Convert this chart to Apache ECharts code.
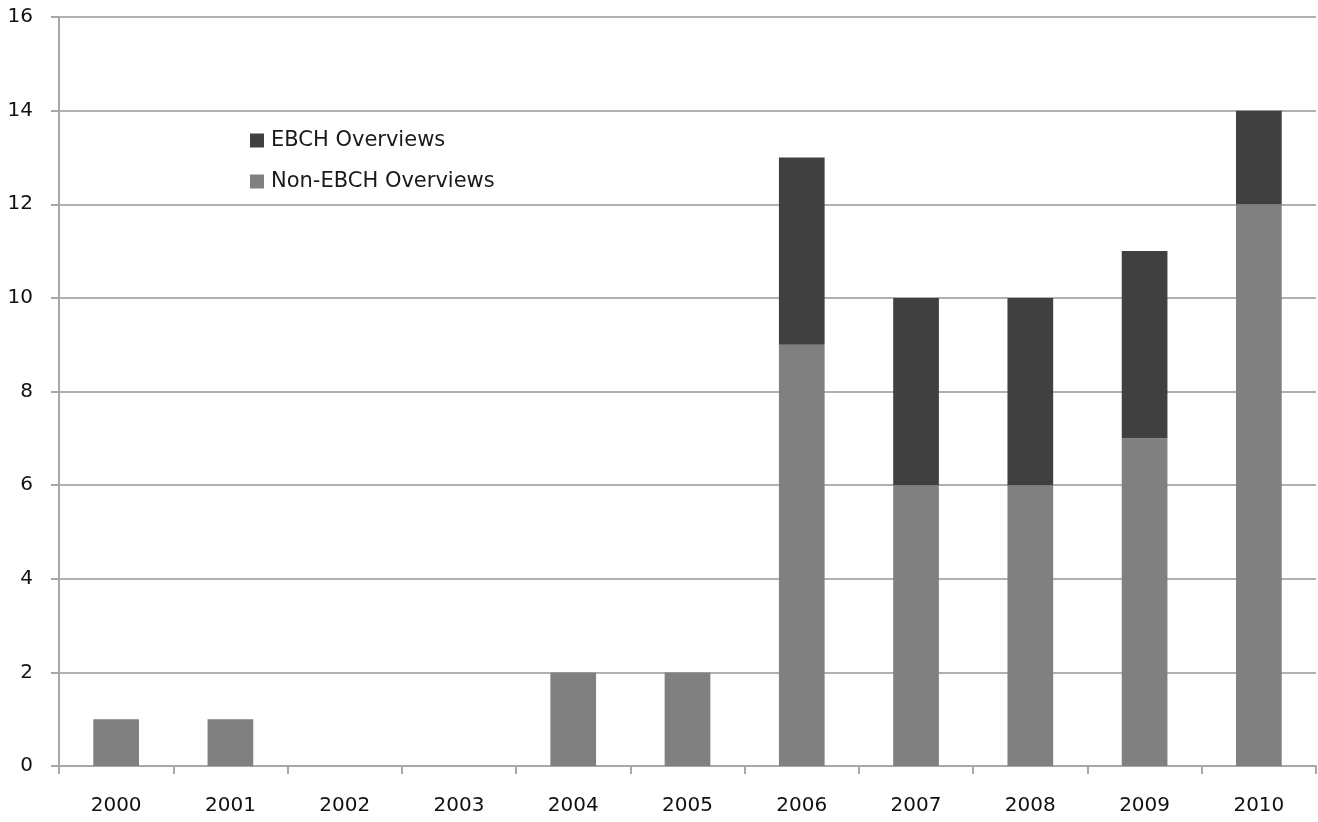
<!DOCTYPE html>
<html><head><meta charset="utf-8">
<script src="https://cdn.jsdelivr.net/npm/echarts@6/dist/echarts.min.js"></script>
<style>html,body{margin:0;padding:0;background:#fff}#c{width:1318px;height:822px}</style>
</head><body><div id="c"></div>
<script>
const categories = ['2000','2001','2002','2003','2004','2005','2006','2007','2008','2009','2010'];
const nonEbch = [1,1,0,0,2,2,9,6,6,7,12];
const ebch = [0,0,0,0,0,0,4,4,4,4,2];
const seriesNames = ['EBCH Overviews','Non-EBCH Overviews'];
const font = 'DejaVu Sans, Verdana, sans-serif';
const chart = echarts.init(document.getElementById('c'));
chart.setOption({
  animation:false,
  backgroundColor:'#fff',
  grid:{left:59,right:2,top:17,bottom:56,containLabel:false},
  legend:{orient:'vertical',left:245,top:125,itemWidth:14,itemHeight:14,itemGap:20,
    data:seriesNames,icon:'rect',
    textStyle:{fontFamily:font,fontSize:21,color:'#1a1a1a',padding:[0,0,0,2]}},
  xAxis:{type:'category',data:categories,
    axisLine:{lineStyle:{color:'#a8a8a8',width:2}},
    axisTick:{show:true,length:8,lineStyle:{color:'#a8a8a8',width:2},alignWithLabel:false},
    axisLabel:{fontFamily:font,fontSize:20,color:'#111',margin:30}},
  yAxis:{type:'value',min:0,max:16,interval:2,
    axisLine:{show:true,lineStyle:{color:'#a8a8a8',width:2}},
    axisTick:{show:true,length:8,lineStyle:{color:'#a8a8a8',width:2}},
    splitLine:{lineStyle:{color:'#b0b0b0',width:2}},
    axisLabel:{fontFamily:font,fontSize:20,color:'#111',margin:26}},
  series:[
    {name:seriesNames[1],type:'bar',stack:'a',data:nonEbch,barWidth:'40%',
      itemStyle:{color:'#808080'}},
    {name:seriesNames[0],type:'bar',stack:'a',data:ebch,barWidth:'40%',
      itemStyle:{color:'#404040'}}
  ]
});
</script></body></html>
